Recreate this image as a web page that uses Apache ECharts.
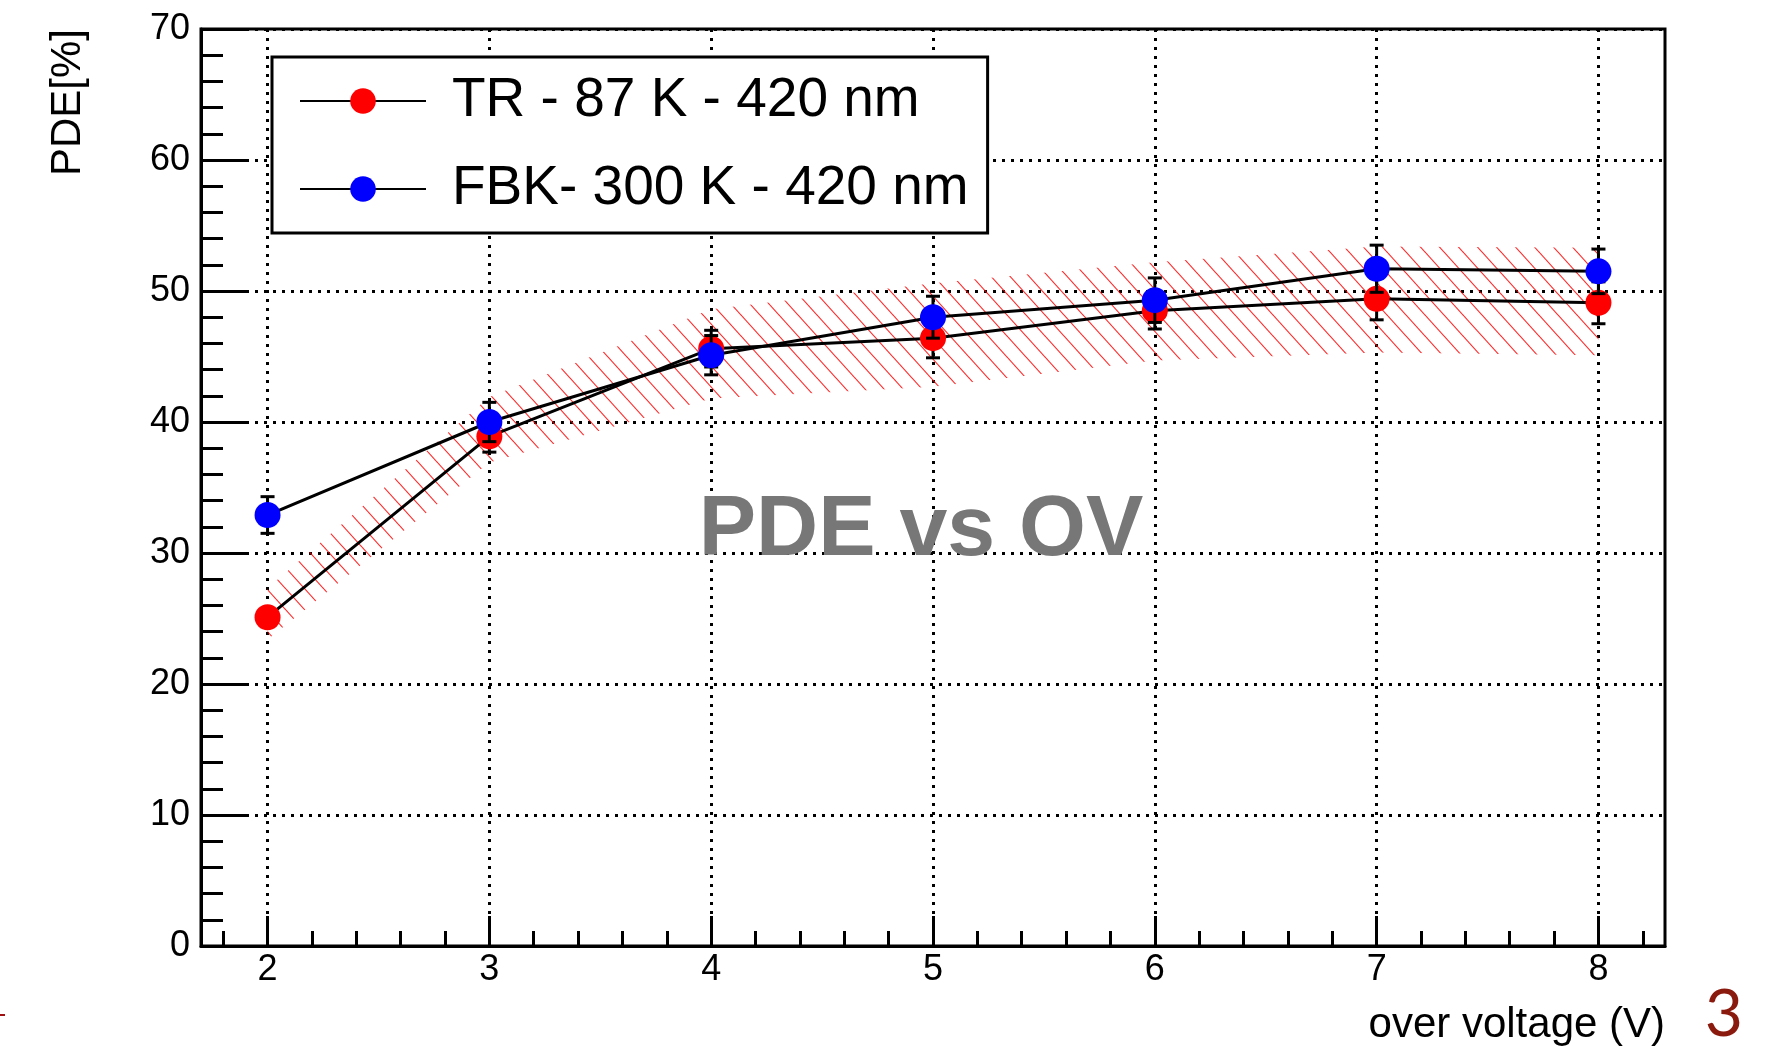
<!DOCTYPE html>
<html>
<head>
<meta charset="utf-8">
<script src="https://cdn.jsdelivr.net/npm/echarts@6/dist/echarts.min.js"></script>
<style>
html,body{margin:0;padding:0;background:#fff;}
#chart{width:1792px;height:1046px;}
</style>
</head>
<body>
<div id="chart"></div>
<script>
// ---- data ----
const overVoltage = [2, 3, 4, 5, 6, 7, 8];
const trValues   = [25.1, 38.9, 45.6, 46.4, 48.5, 49.4, 49.1];
const trErrors   = [0.6, 1.2, 1.4, 1.5, 1.4, 1.6, 1.6];
const fbkValues  = [32.9, 40.0, 45.1, 48.0, 49.3, 51.7, 51.5];
const fbkErrors  = [1.4, 1.5, 1.5, 1.6, 1.7, 1.8, 1.7];
const bandLow    = [23.4, 36.9, 41.8, 42.7, 44.7, 45.3, 45.1];
const bandHigh   = [27.3, 41.9, 48.6, 50.6, 52.2, 53.4, 53.3];
const xMajorTicks = [2, 3, 4, 5, 6, 7, 8];
const xMinorTicks = [1.8, 2.2, 2.4, 2.6, 2.8, 3.2, 3.4, 3.6, 3.8, 4.2, 4.4, 4.6, 4.8,
                     5.2, 5.4, 5.6, 5.8, 6.2, 6.4, 6.6, 6.8, 7.2, 7.4, 7.6, 7.8, 8.2];
const trName  = 'TR - 87 K - 420 nm';
const fbkName = 'FBK- 300 K - 420 nm';

const FONT = "'Liberation Sans', Arial, Helvetica, sans-serif";

// hatch pattern
function makeHatch() {
  const w = 19, h = 21;
  const c = document.createElement('canvas');
  c.width = w; c.height = h;
  const ctx = c.getContext('2d');
  ctx.strokeStyle = 'rgba(255,0,0,0.85)';
  ctx.lineWidth = 1.1;
  [-w, 0, w].forEach(function (dx) {
    ctx.beginPath();
    ctx.moveTo(dx - 2, -2 * h / w);
    ctx.lineTo(dx + w + 2, h + 2 * h / w);
    ctx.stroke();
  });
  return c;
}
const hatch = makeHatch();

const chart = echarts.init(document.getElementById('chart'), null, {renderer: 'canvas'});

function pairs(xs, ys) { return xs.map(function (x, i) { return [x, ys[i]]; }); }
function triples(xs, ys, es) { return xs.map(function (x, i) { return [x, ys[i], es[i]]; }); }

function errorBarRender(params, api) {
  const x = api.value(0), y = api.value(1), e = api.value(2);
  const top = api.coord([x, y + e]);
  const bot = api.coord([x, y - e]);
  const cap = 7;
  const st = {stroke: '#000', lineWidth: 3};
  return {
    type: 'group',
    children: [
      {type: 'line', shape: {x1: top[0], y1: top[1], x2: bot[0], y2: bot[1]}, style: st},
      {type: 'line', shape: {x1: top[0] - cap, y1: top[1], x2: top[0] + cap, y2: top[1]}, style: st},
      {type: 'line', shape: {x1: bot[0] - cap, y1: bot[1], x2: bot[0] + cap, y2: bot[1]}, style: st}
    ]
  };
}

function bandRender(params, api) {
  if (params.dataIndex !== 0) return null;
  const pts = [];
  for (let i = 0; i < overVoltage.length; i++) pts.push(api.coord([overVoltage[i], bandHigh[i]]));
  for (let i = overVoltage.length - 1; i >= 0; i--) pts.push(api.coord([overVoltage[i], bandLow[i]]));
  return {
    type: 'polygon',
    shape: {points: pts},
    style: {fill: {image: hatch, repeat: 'repeat'}, stroke: null}
  };
}

const option = {
  animation: false,
  backgroundColor: '#fff',
  textStyle: {fontFamily: FONT},
  grid: {
    left: 201, top: 29, right: 127, bottom: 100,
    show: true, borderColor: '#000', borderWidth: 3, backgroundColor: 'transparent',
    containLabel: false
  },
  legend: {
    data: [trName, fbkName],
    orient: 'vertical',
    left: 272, top: 57,
    padding: [14, 19, 14, 27],
    itemGap: 28,
    itemWidth: 126, itemHeight: 32,
    backgroundColor: '#fff',
    borderColor: '#000', borderWidth: 3, borderRadius: 0,
    textStyle: {fontSize: 55, lineHeight: 60, color: '#000', fontFamily: FONT, padding: [0, 0, 0, 21]}
  },
  xAxis: [{
    type: 'value', min: 1.7, max: 8.3,
    axisLine: {show: true, lineStyle: {color: '#000', width: 3}},
    axisTick: {show: true, inside: true, length: 30, lineStyle: {color: '#000', width: 3}, customValues: xMajorTicks},
    axisLabel: {show: true, customValues: xMajorTicks, fontSize: 36, color: '#000', margin: 6, fontFamily: FONT},
    splitLine: {show: true, lineStyle: {color: '#000', width: 3, type: [3, 6]}},
    minorTick: {show: false}
  }, {
    type: 'value', min: 1.7, max: 8.3, position: 'bottom',
    axisLine: {show: false},
    axisTick: {show: true, inside: true, length: 15, lineStyle: {color: '#000', width: 3}, customValues: xMinorTicks},
    axisLabel: {show: false},
    splitLine: {show: false}
  }],
  yAxis: {
    type: 'value', min: 0, max: 70, interval: 10,
    axisLine: {show: true, lineStyle: {color: '#000', width: 3}},
    axisTick: {show: true, inside: true, length: 45, lineStyle: {color: '#000', width: 3}},
    minorTick: {show: true, splitNumber: 5, length: 22, lineStyle: {color: '#000', width: 3}},
    axisLabel: {fontSize: 36, color: '#000', margin: 11, fontFamily: FONT},
    splitLine: {show: true, lineStyle: {color: '#000', width: 3, type: [3, 6]}}
  },
  graphic: [
    {type: 'text', x: 68, y: 29, rotation: Math.PI / 2, z: 100,
     style: {text: 'PDE[%]', font: '42px ' + FONT, fill: '#000', align: 'right', verticalAlign: 'middle'}},
    {type: 'text', x: 1665, y: 1025, z: 100,
     style: {text: 'over voltage (V)', font: '42px ' + FONT, fill: '#000', align: 'right', verticalAlign: 'middle'}},
    {type: 'text', x: 921, y: 531, z: 100,
     style: {text: 'PDE vs OV', font: 'bold 86px ' + FONT, fill: '#777777', align: 'center', verticalAlign: 'middle'}},
    {type: 'text', x: 1724, y: 1015, z: 100,
     style: {text: '3', font: '66px Lato, ' + FONT, fill: '#8b1a0e', align: 'center', verticalAlign: 'middle'}},
    {type: 'rect', shape: {x: 0, y: 1014, width: 5, height: 2}, z: 100, style: {fill: '#a01010'}}
  ],
  series: [
    {
      name: 'band', type: 'custom', z: 1,
      data: [[overVoltage[0], bandLow[0], bandHigh[0]]],
      renderItem: bandRender, encode: {x: 0, y: [1, 2]}, silent: true, clip: true
    },
    {
      name: 'trErr', type: 'custom', z: 2,
      data: triples(overVoltage, trValues, trErrors),
      renderItem: errorBarRender, encode: {x: 0, y: 1}, silent: true
    },
    {
      name: trName, type: 'line', z: 3,
      data: pairs(overVoltage, trValues),
      symbol: 'circle', symbolSize: 26, showSymbol: true,
      lineStyle: {color: '#000', width: 3},
      itemStyle: {color: '#ff0000', borderWidth: 0}
    },
    {
      name: 'fbkErr', type: 'custom', z: 4,
      data: triples(overVoltage, fbkValues, fbkErrors),
      renderItem: errorBarRender, encode: {x: 0, y: 1}, silent: true
    },
    {
      name: fbkName, type: 'line', z: 5,
      data: pairs(overVoltage, fbkValues),
      symbol: 'circle', symbolSize: 26, showSymbol: true,
      lineStyle: {color: '#000', width: 3},
      itemStyle: {color: '#0000ff', borderWidth: 0}
    }
  ]
};

chart.setOption(option);
</script>
</body>
</html>
